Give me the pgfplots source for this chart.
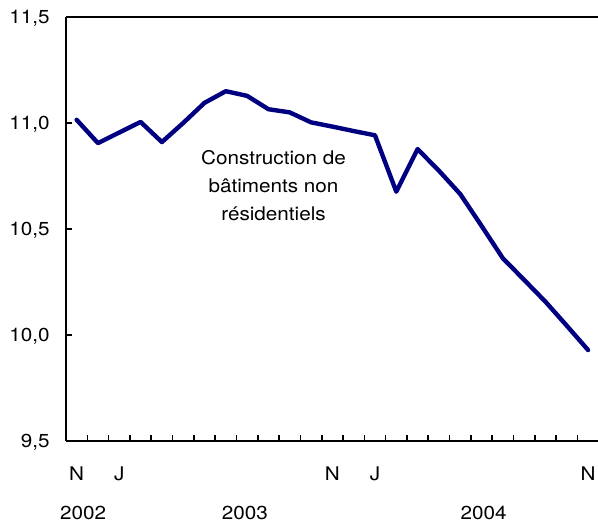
\documentclass[border=0pt]{standalone}
\usepackage{fontspec}
\setmainfont[FakeStretch=1.1]{TeX Gyre Heros}
\usepackage{pgfplots}
\pgfplotsset{compat=1.18}
\definecolor{navyline}{RGB}{0,0,128}
\begin{document}
\fontsize{9.4}{11}\selectfont
\begin{tikzpicture}
\begin{axis}[
  scale only axis, width=266.35pt, height=212pt,
  xmin=-0.5, xmax=24.5, ymin=9.5, ymax=11.5,
  clip=false,
  axis x line*=bottom, axis y line*=left,
  axis line style={line width=1pt, -},
  tick align=inside,
  major tick length=3pt,
  tick style={line width=0.8pt, black},
  ytick={9.5,10,10.5,11,11.5},
  /pgf/number format/fixed,
  /pgf/number format/fixed zerofill,
  /pgf/number format/precision=1,
  /pgf/number format/use comma,
  /pgf/number format/assume math mode=true,
  yticklabel style={anchor=base east, inner sep=0pt, xshift=-8pt, yshift=-3.3pt},
  xtick={0.5,1.5,...,23.5},
  xticklabels={},
  extra x ticks={0,2,12,14,24},
  extra x tick labels={N,J,N,J,N},
  extra x tick style={major tick length=0pt, xticklabel style={anchor=base, yshift=-20pt}},
]
\addplot[navyline, line width=2.2pt, line join=round, line cap=round] coordinates {
(0,11.015) (1,10.905) (2,10.955) (3,11.005) (4,10.91) (5,11.0) (6,11.095)
(7,11.15) (8,11.128) (9,11.065) (10,11.05) (11,11.003) (12,10.983) (13,10.962)
(14,10.942) (15,10.676) (16,10.877) (17,10.775) (18,10.665) (19,10.515)
(20,10.362) (21,10.26) (22,10.157) (23,10.044) (24,9.929)
};
\draw[line width=1pt] (rel axis cs:0,1) -- (rel axis cs:1,1);
\node[align=center, font=\fontsize{9.4}{14}\selectfont] at (axis cs:9.24,10.704) {Construction de\\bâtiments non\\résidentiels};
\node[anchor=base, yshift=-39.5pt] at (axis cs:0.3,9.5) {2002};
\node[anchor=base, yshift=-39.5pt] at (axis cs:7.9,9.5) {2003};
\node[anchor=base, yshift=-39.5pt] at (axis cs:19.1,9.5) {2004};
\end{axis}
\pgfresetboundingbox
\path[use as bounding box] ([shift={(-33pt,-40.5pt)}]current axis.south west) rectangle ([shift={(-0.35pt,8.5pt)}]current axis.north east);
\end{tikzpicture}
\end{document}
